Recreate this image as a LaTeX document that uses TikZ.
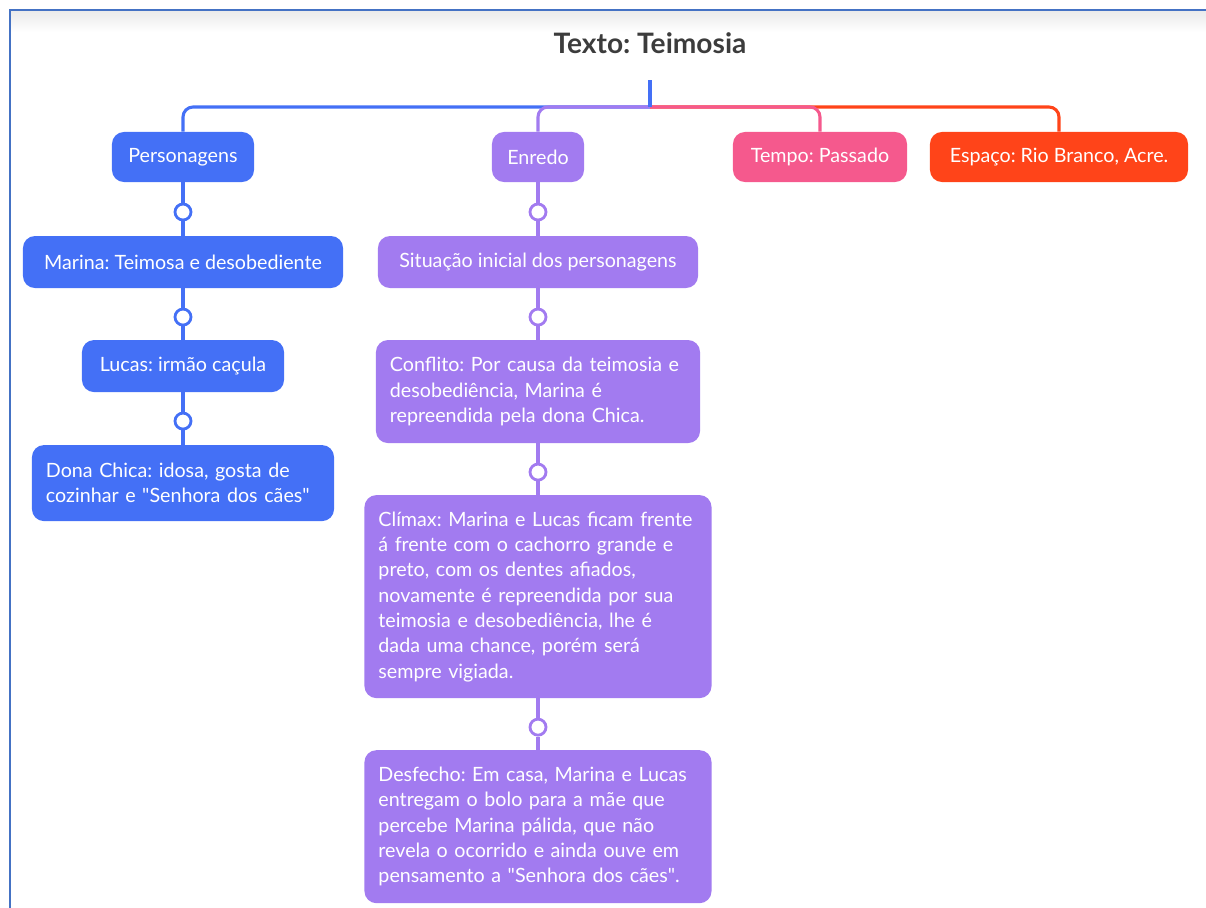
\documentclass[tikz,border=0pt]{standalone}
\usepackage{fontspec}
\setmainfont{Lato}
\usepackage{tikz}
\usepackage{xcolor}
\usetikzlibrary{positioning}

\definecolor{persblue}{HTML}{4470F6}
\definecolor{enrpurple}{HTML}{A27BF0}
\definecolor{tmppink}{HTML}{F5598D}
\definecolor{espred}{HTML}{FF4419}
\definecolor{frameblue}{HTML}{4472C4}
\definecolor{titlegray}{HTML}{3C3C3C}

\frenchspacing
\begin{document}
\begin{tikzpicture}[x=0.025cm, y=-0.025cm,
  box/.style = {rounded corners=0.3cm, text=white, inner xsep=0.35cm, inner ysep=0.15cm, font=\fontsize{14}{18}\selectfont, minimum height=1.25cm},
  pers/.style = {box, fill=persblue},
  enr/.style = {box, fill=enrpurple},
  tmp/.style = {box, fill=tmppink},
  esp/.style = {box, fill=espred},
  circ/.style = {circle, draw, fill=white, line width=2pt, minimum size=0.4cm, inner sep=0pt},
  link/.style = {line width=2.2pt, rounded corners=0.25cm}]
\useasboundingbox (0,0) rectangle (1206,908);
\shade[top color=black!8, bottom color=white] (11,11) rectangle (1206,32);
\draw[frameblue, line width=1.4pt] (10,908) -- (10,10) -- (1206,10);

\node[font=\bfseries\fontsize{20}{24}\selectfont, text=titlegray] (title) at (650,43) {Texto: Teimosia};
\coordinate (stem) at (650,80);
\coordinate (bus) at (650,107);

\node[pers, minimum width=3.55cm] (pers) at (183,157) {Personagens};
\node[enr, minimum width=2.3cm] (enr) at (538,157) {Enredo};
\node[tmp, minimum width=4.35cm] (tmp) at (820,157) {Tempo: Passado};
\node[esp, minimum width=6.45cm] (esp) at (1059,157) {Espaço: Rio Branco, Acre.};

% personagens
\node[circ, draw=persblue] (p1) [below of=pers, node distance=1.375cm] {};
\node[pers, minimum width=8cm, minimum height=1.3cm] (marina) [below of=p1, node distance=1.25cm] {Marina: Teimosa e desobediente};
\node[circ, draw=persblue] (p2) [below of=marina, node distance=1.375cm] {};
\node[pers, minimum width=5.05cm, minimum height=1.3cm] (lucas) [below of=p2, node distance=1.225cm] {Lucas: irmão caçula};
\node[circ, draw=persblue] (p3) [below of=lucas, node distance=1.375cm] {};
\node[pers, text width=6.85cm, align=left, minimum height=1.9cm] (chica) [below of=p3, node distance=1.55cm] {Dona Chica: idosa, gosta de\\cozinhar e \textquotedbl Senhora dos cães\textquotedbl};

% enredo
\node[circ, draw=enrpurple] (e1) [below of=enr, node distance=1.375cm] {};
\node[enr, minimum width=8cm, minimum height=1.3cm] (sit) [below of=e1, node distance=1.25cm] {Situação inicial dos personagens};
\node[circ, draw=enrpurple] (e2) [below of=sit, node distance=1.375cm] {};
\node[enr, text width=7.4cm, align=left, minimum height=2.575cm] (conf) [below of=e2, node distance=1.8625cm] {Conflito: Por causa da teimosia e\\desobediência, Marina é\\repreendida pela dona Chica.};
\node[circ, draw=enrpurple] (e3) [below of=conf, node distance=2.0125cm] {};
\node[enr, text width=7.975cm, align=left, minimum height=5.075cm] (clim) [below of=e3, node distance=3.1125cm] {Clímax: Marina e Lucas ficam frente\\á frente com o cachorro grande e\\preto, com os dentes afiados,\\novamente é repreendida por sua\\teimosia e desobediência, lhe é\\dada uma chance, porém será\\sempre vigiada.};
\node[circ, draw=enrpurple] (e4) [below of=clim, node distance=3.2625cm] {};
\node[enr, text width=7.975cm, align=left, minimum height=3.825cm] (desf) [below of=e4, node distance=2.4875cm] {Desfecho: Em casa, Marina e Lucas\\entregam o bolo para a mãe que\\percebe Marina pálida, que não\\revela o ocorrido e ainda ouve em\\pensamento a \textquotedbl Senhora dos cães\textquotedbl.};

\draw[link, persblue] (bus) -| (pers);
\draw[link, enrpurple] (bus) -| (enr);
\draw[link, espred] (bus) -| (esp);
\draw[link, tmppink] (bus) -| (tmp);
\draw[link, persblue] (stem) -- (bus);

\draw[link, persblue] (pers) -- (p1) -- (marina) -- (p2) -- (lucas) -- (p3) -- (chica);
\draw[link, enrpurple] (enr) -- (e1) -- (sit) -- (e2) -- (conf) -- (e3) -- (clim) -- (e4) -- (desf);

\end{tikzpicture}
\end{document}
